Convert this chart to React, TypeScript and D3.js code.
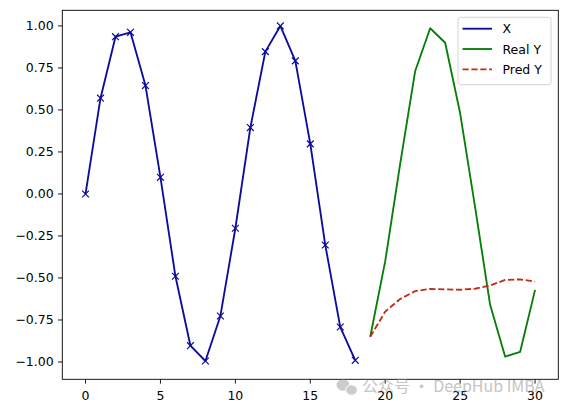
import React from "react";
import * as d3 from "d3";

const W = 568;
const H = 413;

const xSteps = d3.range(0, 19);
const xValues = [0.0, 0.57, 0.936, 0.962, 0.645, 0.099, -0.49, -0.903, -0.994, -0.726, -0.204, 0.395, 0.847, 1.0, 0.792, 0.298, -0.304, -0.792, -0.99];

const ySteps = d3.range(19, 31);
const realY = [-0.85, -0.40, 0.18, 0.732, 0.986, 0.9, 0.48, -0.08, -0.66, -0.968, -0.94, -0.571];
const predY = [-0.85, -0.70, -0.625, -0.578, -0.565, -0.568, -0.57, -0.564, -0.544, -0.512, -0.508, -0.522];

const xTicks = [0, 5, 10, 15, 20, 25, 30];
const yTicks = [-1.0, -0.75, -0.5, -0.25, 0.0, 0.25, 0.5, 0.75, 1.0];
const legendLabels = ["X", "Real Y", "Pred Y"];

const BLUE = "#0c0c9c";
const GREEN = "#087d08";
const RED = "#c22c1a";

export default function App() {
  const left = 62.3, right = 558.3, top = 10.3, bottom = 379.3;
  const x = d3.scaleLinear().domain([-1.55, 31.55]).range([left, right]);
  const y = d3.scaleLinear().domain([-1.103, 1.093]).range([bottom, top]);

  const line = d3.line<[number, number]>().x(d => x(d[0])).y(d => y(d[1]));
  const xData: [number, number][] = xSteps.map((s, i) => [s, xValues[i]]);
  const realData: [number, number][] = ySteps.map((s, i) => [s, realY[i]]);
  const predData: [number, number][] = ySteps.map((s, i) => [s, predY[i]]);

  const fmt = (v: number) => d3.format(".2f")(v).replace("-", "\u2212");
  const font = "DejaVu Sans, sans-serif";
  const colors = [BLUE, GREEN, RED];

  const lx = 458, ly = 17.3, lw = 93, lh = 67.4;
  const fs = 12.5;

  return (
    <svg width={W} height={H} style={{ position: "fixed", left: 0, top: 0, background: "#fff" }} fontFamily={font}>
      <rect x={0} y={0} width={W} height={H} fill="#fff" />
      {/* ticks */}
      {xTicks.map(t => (
        <g key={"xt" + t}>
          <line x1={x(t)} x2={x(t)} y1={bottom} y2={bottom + 4.3} stroke="#000" strokeWidth={0.9} />
          <text x={x(t)} y={bottom + 20.3} fontSize={fs} textAnchor="middle" fill="#000">{t}</text>
        </g>
      ))}
      {yTicks.map(t => (
        <g key={"yt" + t}>
          <line x1={left - 4.3} x2={left} y1={y(t)} y2={y(t)} stroke="#000" strokeWidth={0.9} />
          <text x={left - 8.6} y={y(t)} dy="0.36em" fontSize={fs} textAnchor="end" fill="#000">{fmt(t)}</text>
        </g>
      ))}
      {/* series */}
      <path d={line(xData) || ""} fill="none" stroke={BLUE} strokeWidth={1.85} strokeLinejoin="round" />
      {xData.map((d, i) => {
        const cx = x(d[0]), cy = y(d[1]), r = 3.4;
        return (
          <path key={"m" + i} d={`M${cx - r},${cy - r}L${cx + r},${cy + r}M${cx - r},${cy + r}L${cx + r},${cy - r}`} stroke={BLUE} strokeWidth={1.2} />
        );
      })}
      <path d={line(realData) || ""} fill="none" stroke={GREEN} strokeWidth={1.85} strokeLinejoin="round" />
      <path d={line(predData) || ""} fill="none" stroke={RED} strokeWidth={1.85} strokeDasharray="6.2,2.7" strokeLinejoin="round" />
      {/* frame */}
      <rect x={left} y={top} width={right - left} height={bottom - top} fill="none" stroke="#000" strokeWidth={0.9} />
      {/* legend */}
      <rect x={lx} y={ly} width={lw} height={lh} rx={2.5} fill="#fff" fillOpacity={0.8} stroke="#d0d0d0" strokeWidth={0.9} />
      {legendLabels.map((lab, i) => {
        const ry = ly + 11.4 + i * 20.3;
        return (
          <g key={lab}>
            <line x1={lx + 4.5} x2={lx + 34} y1={ry} y2={ry} stroke={colors[i]} strokeWidth={1.85} strokeDasharray={i === 2 ? "6.2,2.7" : undefined} />
            <text x={lx + 44.5} y={ry} dy="0.36em" fontSize={fs} fill="#000">{lab}</text>
          </g>
        );
      })}
      {/* watermark */}
      <g opacity={0.5}>
        <ellipse cx={343} cy={385} rx={6.5} ry={5.8} fill="#9a9a9a" />
        <ellipse cx={351.5} cy={390} rx={5.8} ry={5.2} fill="#9a9a9a" stroke="#fff" strokeWidth={1} />
        <text x={362} y={392} fontSize={16} fill="#8a8a8a" fontFamily="Noto Sans CJK SC, DejaVu Sans, sans-serif">公众号 · DeepHub IMBA</text>
      </g>
    </svg>
  );
}
